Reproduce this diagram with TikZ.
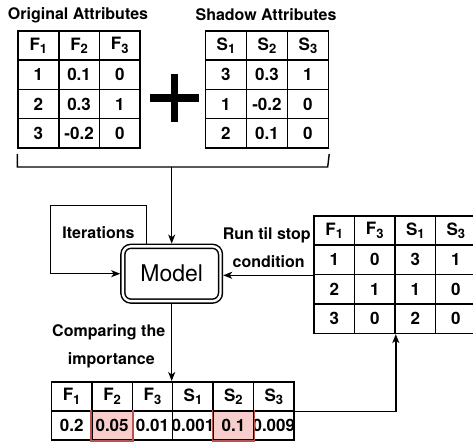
\documentclass[tikz,border=0pt]{standalone}
\usepackage{fontspec}
\setmainfont{TeX Gyre Heros}
\usetikzlibrary{arrows.meta}
\definecolor{hlfill}{HTML}{F8CECC}
\definecolor{hldraw}{HTML}{B85450}
\newcommand\sbx[1]{\raisebox{-3.2pt}{\fontsize{13}{13}\selectfont #1}}
\begin{document}
\begin{tikzpicture}[x=1pt,y=-1pt,
  cell/.style={draw, line width=1.5pt, anchor=north west, inner sep=0pt,
    font=\bfseries\fontsize{17}{17}\selectfont},
  lbl/.style={font=\bfseries\fontsize{16}{16}\selectfont, inner sep=0pt},
  conn/.style={line width=1.4pt},
  arr/.style={conn, -{Stealth[length=9pt,width=7pt,inset=2.5pt]}},
  hl/.style={fill=hlfill},
  hledge/.style={draw=hldraw, line width=1.5pt}
]
\useasboundingbox (0,0) rectangle (473,445);

% titles
\node[lbl] (t-orig) at (78,15) {Original Attributes};
\node[lbl] (t-shad) at (266,15) {Shadow Attributes};

% original table
\foreach \r/\vals in {0/{F\sbx{1},F\sbx{2},F\sbx{3}},1/{1,0.1,0},2/{2,0.3,1},3/{3,-0.2,0}}
  \foreach \t [count=\c] in \vals
    \node[cell,minimum width=40.7pt,minimum height=29.3pt] (o-\r-\c) at ({17.3+(\c-1)*40.7},{30+\r*29.3}) {\makebox[0pt]{\t}};

% shadow table
\foreach \r/\vals in {0/{S\sbx{1},S\sbx{2},S\sbx{3}},1/{3,0.3,1},2/{1,-0.2,0},3/{2,0.1,0}}
  \foreach \t [count=\c] in \vals
    \node[cell,minimum width=41pt,minimum height=29.3pt] (s-\r-\c) at ({204.7+(\c-1)*41},{30+\r*29.3}) {\makebox[0pt]{\t}};

% plus sign
\fill (150,94.3) rectangle (199.3,101.7);
\fill (170.7,74) rectangle (178.3,121.7);

% model
\node[draw, double, line width=1.5pt, double distance=2.4pt, rounded corners=8pt,
  minimum width=97.6pt, minimum height=54.8pt, outer sep=2.7pt, inner sep=0pt,
  font=\fontsize{23}{23}\selectfont] (model) at (171.7,273.7) {Model};

% bracket gathering both tables
\coordinate (bl) at (17.3,167);
\coordinate (br) at (327.7,167);
\draw[conn] ([yshift=-5.5pt]o-3-1.south west) -- (bl) -- (br) -- ([yshift=-5.5pt]s-3-3.south east);
\draw[arr] (bl -| model.north) -- (model.north);

% iterations loop
\coordinate (itl) at (50.3,205.7);
\coordinate (itr) at (146.7,205.7);
\node[lbl] (iter) at (98.5,233) {Iterations};
\draw[arr] (itr |- model.north) -- (itr) -- (itl) -- (itl |- model.west) -- (model.west);

% right table
\foreach \r/\vals in {0/{F\sbx{1},F\sbx{3},S\sbx{1},S\sbx{3}},1/{1,0,3,1},2/{2,1,1,0},3/{3,0,2,0}}
  \foreach \t [count=\c] in \vals
    \node[cell,minimum width=40.5pt,minimum height=29.4pt] (r-\r-\c) at ({313.3+(\c-1)*40.5},{215+\r*29.4}) {\makebox[0pt]{\t}};

\draw[arr] (r-1-1.south west) -- (model.east |- r-1-1.south west);
\node[lbl] (run1) at (266.7,235) {Run til stop};
\node[lbl] (run2) at (268.7,262) {condition};

% bottom table
\foreach \t [count=\c] in {F\sbx{1},F\sbx{2},F\sbx{3},S\sbx{1},S\sbx{2},S\sbx{3}}
  \node[cell,minimum width=40.43pt,minimum height=29.2pt] (b-0-\c) at ({50.7+(\c-1)*40.43},381) {\makebox[0pt]{\t}};
\foreach \t/\s [count=\c] in {0.2/,0.05/hl,0.01/,0.001/,0.1/hl,0.009/}
  \node[cell,\s,minimum width=40.43pt,minimum height=29.2pt] (b-1-\c) at ({50.7+(\c-1)*40.43},410.2) {\makebox[0pt]{\t}};
\draw[hledge] (b-1-2.north west) -- (b-1-2.south west) -- (b-1-2.south east) -- (b-1-2.north east);
\draw[hledge] (b-1-5.north west) -- (b-1-5.south west) -- (b-1-5.south east) -- (b-1-5.north east);

\draw[arr] (model.south) -- (model.south |- b-0-4.north);
\node[lbl] (cmp1) at (108.7,332.7) {Comparing the};
\node[lbl] (cmp2) at (111.3,360) {importance};

\draw[arr] (b-0-6.south east) -| (r-3-2.south east);
\end{tikzpicture}
\end{document}
